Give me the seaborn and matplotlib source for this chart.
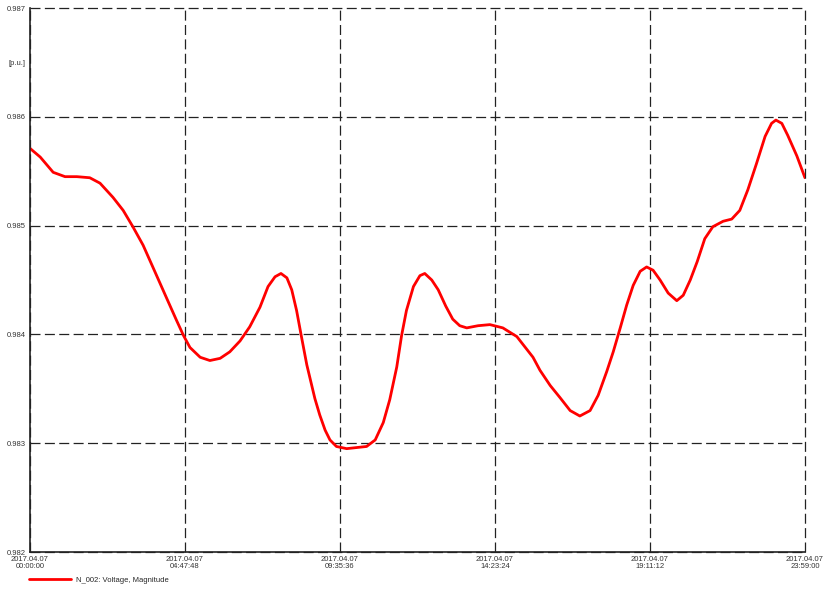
import pandas as pd
import matplotlib
matplotlib.use("Agg")
import matplotlib.pyplot as plt
import seaborn as sns

# minutes after midnight on 2017-04-07 and voltage magnitude (p.u.)
minutes = [0, 19, 43, 65, 87, 111, 130, 154, 173, 191,
           210, 228, 254, 272, 285, 297, 316, 334, 353, 371,
           390, 408, 427, 442, 455, 466, 477, 486, 495, 504,
           514, 529, 538, 548, 557, 569, 588, 625, 641, 656,
           668, 681, 690, 699, 712, 724, 733, 746, 758, 772,
           785, 798, 811, 832, 854, 878, 904, 934, 947, 966,
           984, 1003, 1021, 1040, 1055, 1071, 1083, 1096, 1108, 1120,
           1133, 1145, 1157, 1170, 1185, 1201, 1213, 1226, 1239, 1253,
           1268, 1287, 1303, 1318, 1333, 1349, 1365, 1377, 1385, 1396,
           1407, 1424, 1439]
voltage = [0.98571, 0.98563, 0.98549, 0.98545, 0.98545, 0.98544, 0.98539, 0.98526, 0.98514, 0.98499,
           0.98482, 0.98462, 0.98433, 0.98413, 0.98399, 0.98388, 0.98379, 0.98376, 0.98378, 0.98384,
           0.98394, 0.98407, 0.98425, 0.98444, 0.98453, 0.98456, 0.98452, 0.98441, 0.98422, 0.98398,
           0.98372, 0.98341, 0.98326, 0.98312, 0.98303, 0.98297, 0.98295, 0.98297, 0.98303, 0.98319,
           0.98340, 0.98370, 0.98399, 0.98422, 0.98444, 0.98454, 0.98456, 0.98450, 0.98441, 0.98426,
           0.98414, 0.98408, 0.98406, 0.98408, 0.98409, 0.98406, 0.98398, 0.98379, 0.98367, 0.98353,
           0.98342, 0.98330, 0.98325, 0.98330, 0.98344, 0.98366, 0.98384, 0.98406, 0.98427, 0.98445,
           0.98458, 0.98462, 0.98459, 0.98450, 0.98438, 0.98431, 0.98436, 0.98450, 0.98467, 0.98488,
           0.98499, 0.98504, 0.98506, 0.98514, 0.98533, 0.98557, 0.98582, 0.98594, 0.98597, 0.98594,
           0.98583, 0.98564, 0.98544]

x_ticks = ["00:00:00", "04:47:48", "09:35:36", "14:23:24", "19:11:12", "23:59:00"]
y_ticks = [0.982, 0.983, 0.984, 0.985, 0.986, 0.987]
unit_label = "[p.u.]"
series_name = "N_002: Voltage, Magnitude"
day = "2017-04-07"

assert len(minutes) == len(voltage)

df = pd.DataFrame({
    "time": pd.Timestamp(day) + pd.to_timedelta(minutes, unit="min"),
    "voltage": voltage,
})

sns.set_style("white")
plt.rcParams["font.family"] = ["Liberation Sans", "DejaVu Sans"]

fig = plt.figure(figsize=(8.29, 5.90), dpi=100)
ax = fig.add_axes([0.0362, 0.0644, 0.9348, 0.922])

sns.lineplot(data=df, x="time", y="voltage", color="#ff0000", linewidth=2.0,
             label=series_name, ax=ax)

xt = pd.to_datetime([f"{day} {t}" for t in x_ticks])
ax.set_xlim(xt[0], xt[-1])
ax.set_xticks(xt)
ax.set_xticklabels([f"{day.replace('-', '.')}\n{t}" for t in x_ticks],
                   fontsize=5.5, color="#333333", linespacing=1.0)
ax.set_xticks(xt[:-1] + (xt[1] - xt[0]) / 2, minor=True)

ax.set_ylim(y_ticks[0], y_ticks[-1])
ax.set_yticks(y_ticks)
ax.set_yticklabels([f"{v:.3f}" for v in y_ticks], fontsize=5.5, color="#333333")
minor_y = [v + 0.0005 for v in y_ticks[:-1]]
ax.set_yticks(minor_y, minor=True)
ax.set_yticklabels([unit_label if abs(v - 0.9865) < 1e-6 else "" for v in minor_y],
                   minor=True, fontsize=5.5, color="#333333")

ax.grid(True, which="major", color="#222222", linestyle=(0, (8, 3.5)), linewidth=0.9)
for gl in ax.get_xgridlines() + ax.get_ygridlines():
    gl.set_clip_on(False)
ax.tick_params(which="both", direction="in", length=3, width=1, color="#222222", pad=3)
ax.tick_params(which="major", length=0)
ax.set_xlabel("")
ax.set_ylabel("")

for side in ["top", "right"]:
    ax.spines[side].set_visible(False)
for side in ["left", "bottom"]:
    ax.spines[side].set_color("#222222")
    ax.spines[side].set_linewidth(1.2)
    ax.spines[side].set_zorder(3)

ax.legend(loc="upper left", bbox_to_anchor=(-0.005, -0.04), frameon=False,
          fontsize=5.5, handlelength=5.5, handletextpad=0.6,
          borderaxespad=0)

fig.savefig("out.png", dpi=100)
